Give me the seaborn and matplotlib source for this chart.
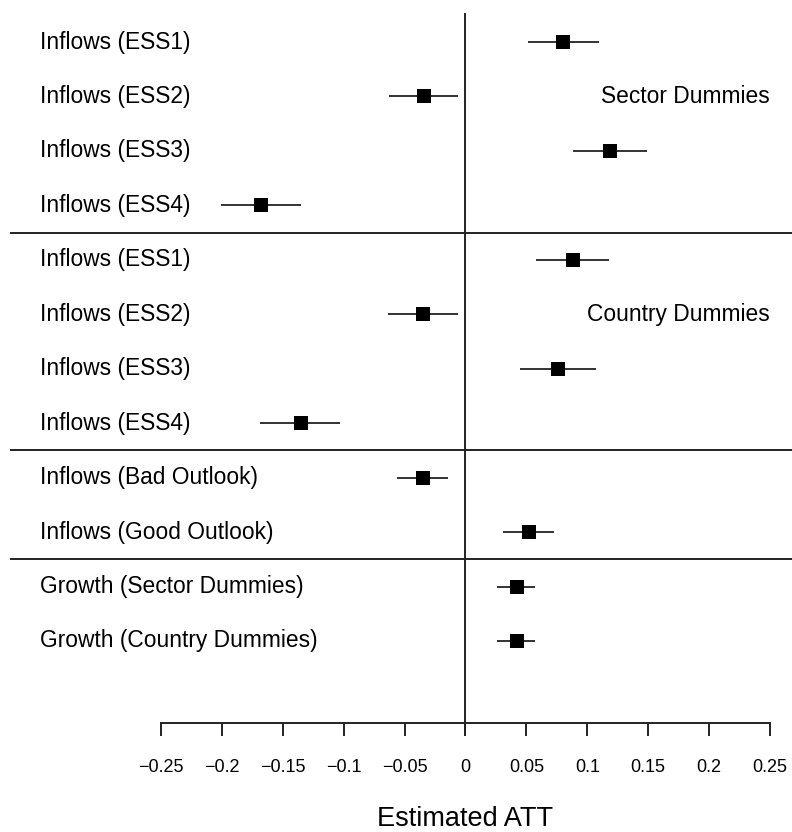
import numpy as np
import pandas as pd
import matplotlib
matplotlib.use("Agg")
import matplotlib.pyplot as plt
import seaborn as sns

labels = ["Inflows (ESS1)", "Inflows (ESS2)", "Inflows (ESS3)", "Inflows (ESS4)",
          "Inflows (ESS1)", "Inflows (ESS2)", "Inflows (ESS3)", "Inflows (ESS4)",
          "Inflows (Bad Outlook)", "Inflows (Good Outlook)",
          "Growth (Sector Dummies)", "Growth (Country Dummies)"]
estimate = [0.080, -0.034, 0.119, -0.168, 0.088, -0.035, 0.076, -0.135,
            -0.035, 0.052, 0.042, 0.042]
lower = [0.051, -0.063, 0.088, -0.201, 0.058, -0.064, 0.045, -0.169,
         -0.056, 0.031, 0.026, 0.026]
upper = [0.110, -0.006, 0.149, -0.135, 0.118, -0.006, 0.107, -0.103,
         -0.014, 0.073, 0.057, 0.057]
group_labels = ["Sector Dummies", "Country Dummies"]
group_rows = [1, 5]
separators = [3.5, 7.5, 9.5]
tick_values = [-0.25, -0.2, -0.15, -0.1, -0.05, 0, 0.05, 0.1, 0.15, 0.2, 0.25]
tick_labels = ["\u22120.25", "\u22120.2", "\u22120.15", "\u22120.1", "\u22120.05", "0",
               "0.05", "0.1", "0.15", "0.2", "0.25"]
xlabel = "Estimated ATT"

sns.set_theme(style="white")
plt.rcParams["font.family"] = ["Liberation Sans", "DejaVu Sans"]

df = pd.DataFrame({"label": labels, "est": estimate, "lo": lower, "hi": upper,
                   "row": np.arange(len(labels))})

W, H = 792, 832
fig = plt.figure(figsize=(W / 100, H / 100), dpi=100)
ax = fig.add_axes([0, 0, 1, 1])

# pixel mapping: x=-0.25 -> 161 px, 0.25 -> 770 px ; row 0 -> 42 px, step 54.45 px
ppu = (770 - 161) / 0.5
x0 = -0.25 - 161 / ppu
x1 = -0.25 + (W - 161) / ppu
rstep = 54.45
y_top = -42 / rstep
y_bot = (H - 42) / rstep


def px_to_x(px):
    return -0.25 + (px - 161) / ppu


def py_to_row(py):
    return (py - 42) / rstep


lc = "#222222"
# CI lines
ax.hlines(df["row"], df["lo"], df["hi"], color="#333333", lw=1.4, zorder=2)
# points
sns.scatterplot(data=df, x="est", y="row", marker="s", s=105, color="black",
                edgecolor="black", linewidth=0, ax=ax, zorder=3, legend=False)
ax.set_xlim(x0, x1)
ax.set_ylim(y_bot, y_top)
ax.axis("off")

# labels
for r, lab in enumerate(labels):
    ax.text(px_to_x(40), r, lab, ha="left", va="center", fontsize=16.4, color="black")
for r, g in zip(group_rows, group_labels):
    ax.text(0.25, r, g, ha="right", va="center", fontsize=16.4, color="black")

# separators
for s in separators:
    ax.plot([px_to_x(10), x1], [s, s], color=lc, lw=1.4, solid_capstyle="butt")

# zero line
ax.plot([0, 0], [py_to_row(13), py_to_row(736)], color=lc, lw=1.4, solid_capstyle="butt")

# x axis
yax = py_to_row(722.7)
ytick = py_to_row(736)
ax.plot([-0.25, 0.25], [yax, yax], color=lc, lw=1.4, solid_capstyle="projecting")
for v, t in zip(tick_values, tick_labels):
    ax.plot([v, v], [yax, ytick], color=lc, lw=1.4, solid_capstyle="butt")
    ax.text(v, py_to_row(767), t, ha="center", va="center", fontsize=13, color="black")
ax.text(0, py_to_row(819), xlabel, ha="center", va="center", fontsize=19.5, color="black")

fig.savefig("out.png", dpi=100, facecolor="white")
